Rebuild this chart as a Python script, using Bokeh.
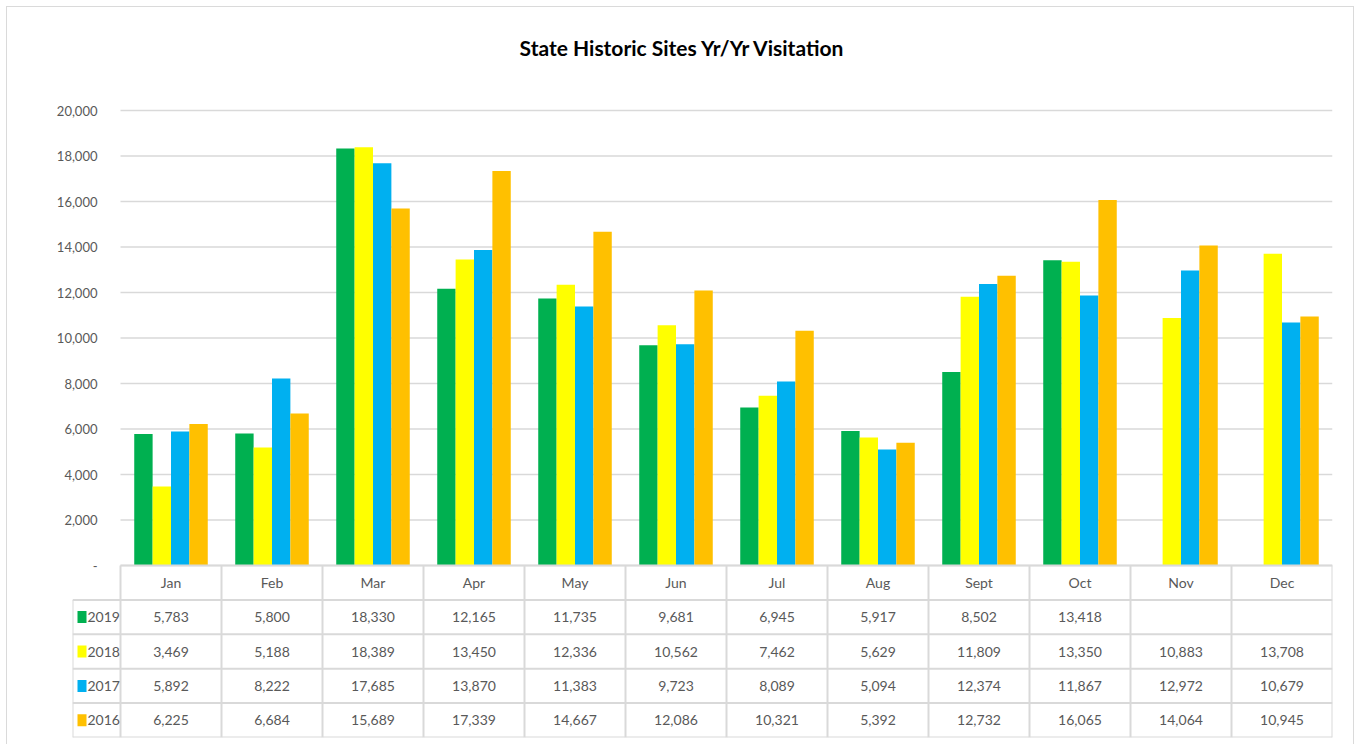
from bokeh.plotting import figure
from bokeh.models import ColumnDataSource, Range1d, FixedTicker, NumeralTickFormatter
from bokeh.core.properties import value
from bokeh.embed import file_html
from bokeh.resources import INLINE

# ---------------- data ----------------
title = "State Historic Sites Yr/Yr Visitation"
months = ["Jan", "Feb", "Mar", "Apr", "May", "Jun", "Jul", "Aug", "Sept", "Oct", "Nov", "Dec"]
years = ["2019", "2018", "2017", "2016"]
v2019 = [5783, 5800, 18330, 12165, 11735, 9681, 6945, 5917, 8502, 13418, None, None]
v2018 = [3469, 5188, 18389, 13450, 12336, 10562, 7462, 5629, 11809, 13350, 10883, 13708]
v2017 = [5892, 8222, 17685, 13870, 11383, 9723, 8089, 5094, 12374, 11867, 12972, 10679]
v2016 = [6225, 6684, 15689, 17339, 14667, 12086, 10321, 5392, 12732, 16065, 14064, 10945]
y_ticks = [0, 2000, 4000, 6000, 8000, 10000, 12000, 14000, 16000, 18000, 20000]

series = [v2019, v2018, v2017, v2016]
colors = ["#00B050", "#FFFF00", "#00B0F0", "#FFC000"]

FONT = "Lato"
TXT = "#595959"
GRID = "#D9D9D9"

# ---------------- layout constants (page pixels) ----------------
OX, OY = 7, 7                                   # chart-area border offset
W, H = 1355 - OX, 745 - OY
FRAME_L, FRAME_R, FRAME_T, ZERO_Y, FRAME_B = 72, 1332, 14, 565, 737
PLOT_L, GRID_TOP = 120, 110                     # month-area left edge, y of top tick
TITLE_X, TITLE_Y = 682, 47
COL_PX = (FRAME_R - PLOT_L) / len(months)       # width of one month column
LEG = (PLOT_L - FRAME_L) / COL_PX               # legend column in x units
YMAX = y_ticks[-1]
UNIT_PER_PX = YMAX / (ZERO_Y - GRID_TOP)
YTOP = YMAX + (GRID_TOP - FRAME_T) * UNIT_PER_PX
YMIN = -(FRAME_B - ZERO_Y) * UNIT_PER_PX
nrows = len(years)
ROW = -YMIN / (nrows + 1)                       # table row height in y units

p = figure(x_range=Range1d(-LEG, len(months)), y_range=Range1d(YMIN, YTOP),
           width=W, height=H, output_backend="svg", toolbar_location=None,
           min_border_left=FRAME_L - OX, min_border_right=W - (FRAME_R - OX),
           min_border_top=FRAME_T - OY, min_border_bottom=H - (FRAME_B - OY),
           styles={"margin-left": "6px", "margin-top": "6px",
                   "border-left": "1px solid #DADADA", "border-top": "1px solid #DADADA",
                   "border-right": "1px solid #DADADA"})
p.outline_line_color = None
p.xaxis.visible = False
p.xgrid.visible = False
p.ygrid.visible = False

# title
p.text(x=[(TITLE_X - PLOT_L) / COL_PX], y=[YMAX + (GRID_TOP - TITLE_Y) * UNIT_PER_PX],
       text=[title], text_align="center", text_baseline="middle",
       text_font=value(FONT), text_font_size="21px", text_font_style="bold",
       text_color="#000000")

# horizontal gridlines across the month columns
p.segment(x0=[0] * len(y_ticks), x1=[len(months)] * len(y_ticks), y0=y_ticks, y1=y_ticks,
          line_color=GRID, line_width=1.5)

# bars
nan = float("nan")
offsets = [-0.273, -0.091, 0.091, 0.273]
for s, c, off in zip(series, colors, offsets):
    src = ColumnDataSource(data=dict(
        x=[i + 0.5 + off for i in range(len(months))],
        top=[nan if v is None else v for v in s]))
    p.vbar(x="x", top="top", width=0.182, source=src, fill_color=c, line_color=None)

# y axis (labels only)
p.yaxis.ticker = FixedTicker(ticks=y_ticks)
p.yaxis.formatter = NumeralTickFormatter(format="0,0")
p.yaxis.major_label_overrides = {0: "-"}
p.yaxis.axis_line_color = None
p.yaxis.major_tick_line_color = None
p.yaxis.minor_tick_line_color = None
p.yaxis.major_label_standoff = -31
p.yaxis.major_label_text_font = FONT
p.yaxis.major_label_text_font_size = "13px"
p.yaxis.major_label_text_color = TXT

# ---------------- data table ----------------
hx0, hx1, hy = [0], [len(months)], [0]
for r in range(nrows + 1):
    hx0.append(-LEG); hx1.append(len(months)); hy.append(-(r + 1) * ROW)
p.segment(x0=hx0, y0=hy, x1=hx1, y1=hy, line_color=GRID, line_width=2)
vx, vy0, vy1 = [-LEG], [-ROW], [YMIN]
for i in range(len(months) + 1):
    vx.append(i); vy0.append(0); vy1.append(YMIN)
p.segment(x0=vx, y0=vy0, x1=vx, y1=vy1, line_color=GRID, line_width=2)

# header
p.text(x=[i + 0.5 for i in range(len(months))], y=[-0.5 * ROW] * len(months),
       text=months, text_align="center", text_baseline="middle",
       text_font=value(FONT), text_font_size="14px", text_color=TXT)

# values
cx, cy, ct = [], [], []
for r, s in enumerate(series):
    for i, v in enumerate(s):
        cx.append(i + 0.5)
        cy.append(-(r + 1.5) * ROW)
        ct.append("" if v is None else f"{v:,}")
p.text(x=cx, y=cy, text=ct, text_align="center", text_baseline="middle",
       text_font=value(FONT), text_font_size="14px", text_color=TXT)

# legend keys and years
ky = [-(r + 1.5) * ROW for r in range(nrows)]
p.rect(x=[-LEG + 9.5 / COL_PX] * nrows, y=ky, width=9, height=12,
       width_units="screen", height_units="screen", fill_color=colors, line_color=None)
p.text(x=[-LEG + 15 / COL_PX] * nrows, y=ky, text=years, text_align="left",
       text_baseline="middle", text_font=value(FONT), text_font_size="14px",
       text_color=TXT)

open("out.html", "w").write(file_html(p, INLINE))
